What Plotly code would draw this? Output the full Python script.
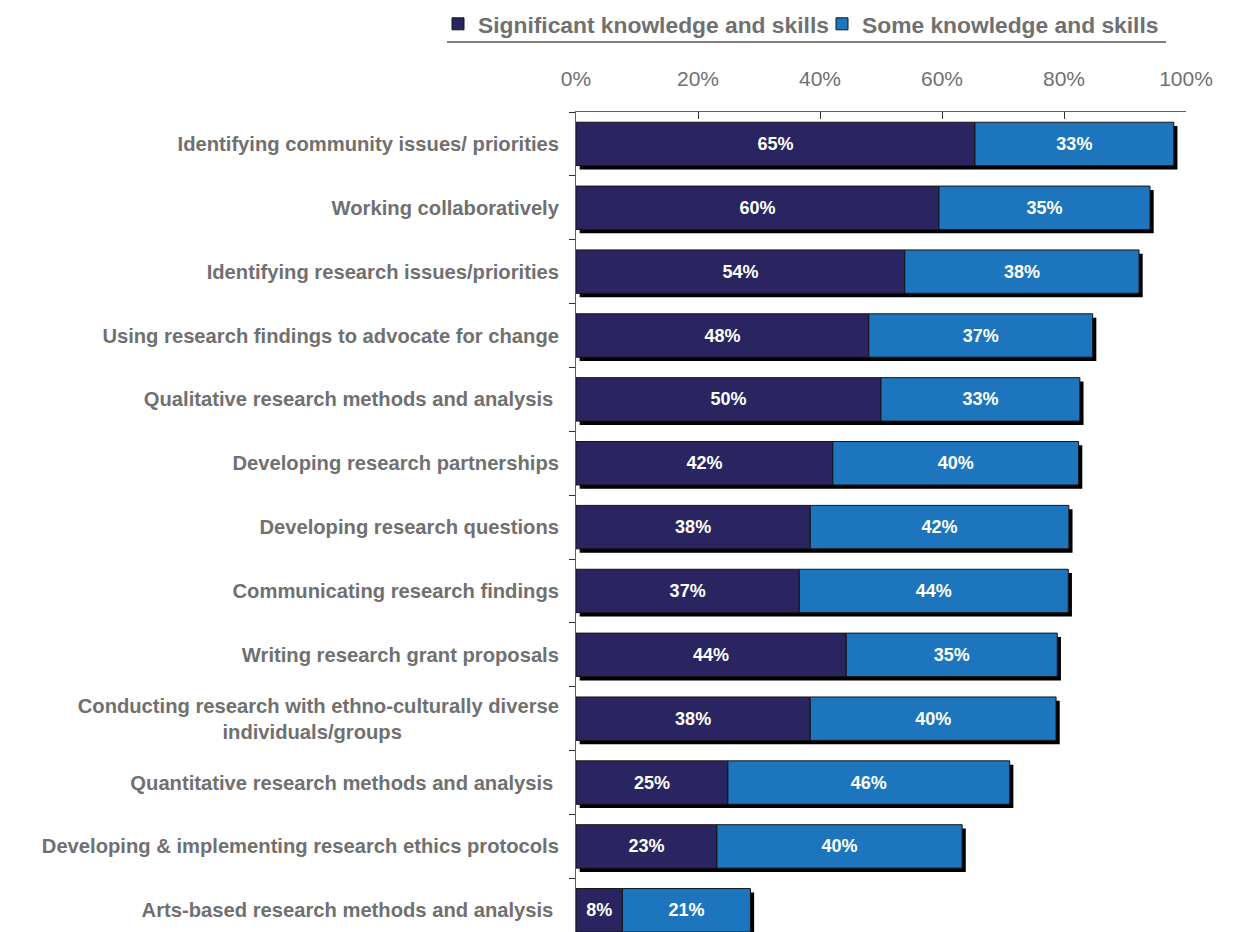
import plotly.graph_objects as go

categories = [
    "Identifying community issues/ priorities",
    "Working collaboratively",
    "Identifying research issues/priorities",
    "Using research findings to advocate for change",
    "Qualitative research methods and analysis ",
    "Developing research partnerships",
    "Developing research questions",
    "Communicating research findings",
    "Writing research grant proposals",
    "Conducting research with ethno-culturally diverse<br>individuals/groups" + "\u00a0" * 28,
    "Quantitative research methods and analysis ",
    "Developing & implementing research ethics protocols",
    "Arts-based research methods and analysis ",
]
significant = [65.4, 59.5, 53.9, 48.0, 50.0, 42.1, 38.4, 36.6, 44.3, 38.4, 24.9, 23.1, 7.6]
some = [32.6, 34.6, 38.4, 36.7, 32.6, 40.3, 42.4, 44.1, 34.6, 40.3, 46.2, 40.2, 21.0]
series_names = ["Significant knowledge and skills", "Some knowledge and skills"]
tick_vals = [0, 20, 40, 60, 80, 100]
tick_text = ["0%", "20%", "40%", "60%", "80%", "100%"]

DARK = "#2A2560"
BLUE = "#1D76BD"
GRAY = "#707070"
BAR_W = 0.68
NARROW = "Liberation Sans Narrow, Arial Narrow, Liberation Sans, sans-serif"
totals = [a + b for a, b in zip(significant, some)]

W, H = 1237, 924          # page body adds an 8px margin
ML, MR, MT = 568, 59, 104
PW, PH = W - ML - MR, H - MT

fig = go.Figure()
# drop shadow behind each stacked bar
fig.add_trace(go.Bar(
    y=categories, x=totals, base=0.6, orientation="h",
    width=BAR_W, offset=-BAR_W / 2 + 0.06,
    marker=dict(color="#000000", line=dict(width=0)),
    showlegend=False, hoverinfo="skip",
))
fig.add_trace(go.Bar(
    y=categories, x=significant, orientation="h", name=series_names[0],
    width=BAR_W, offset=-BAR_W / 2, legend="legend",
    marker=dict(color=DARK, line=dict(color="#151515", width=1)),
    text=[f"{v:.0f}%" for v in significant], textposition="inside", insidetextanchor="middle",
    textfont=dict(family=NARROW, size=18, color="white", weight=700),
    constraintext="none", hoverinfo="x+y",
))
fig.add_trace(go.Bar(
    y=categories, x=some, base=significant, orientation="h", name=series_names[1],
    width=BAR_W, offset=-BAR_W / 2, legend="legend2",
    marker=dict(color=BLUE, line=dict(color="#151515", width=1)),
    text=[f"{v:.0f}%" for v in some], textposition="inside", insidetextanchor="middle",
    textfont=dict(family=NARROW, size=18, color="white", weight=700),
    constraintext="none", hoverinfo="x+y",
))

leg_common = dict(
    orientation="h", xref="container", yref="container", xanchor="left",
    y=1 - 16 / H, yanchor="middle",
    font=dict(family=NARROW, size=22.8, color=GRAY, weight=700),
    bgcolor="rgba(0,0,0,0)", itemwidth=30,
)
line_y = 1 + (MT - 34) / PH

fig.update_layout(
    width=W, height=H,
    barmode="overlay",
    plot_bgcolor="white", paper_bgcolor="white",
    margin=dict(l=ML, r=MR, t=MT, b=0, autoexpand=False),
    showlegend=True,
    legend=dict(x=430 / W, **leg_common),
    legend2=dict(x=814 / W, **leg_common),
    xaxis=dict(
        side="top", range=[0, 100], tickvals=tick_vals, ticktext=tick_text,
        showgrid=False, zeroline=False, showline=True, linecolor="#606060", linewidth=1,
        ticks="inside", ticklen=7, tickcolor="#303030", automargin=False,
        tickfont=dict(family=NARROW, size=21, color=GRAY),
        ticklabelstandoff=17,
    ),
    yaxis=dict(
        autorange=False, range=[12.34, -0.5], categoryorder="array", categoryarray=categories,
        showgrid=False, zeroline=False, showline=True, linecolor="#606060", linewidth=1,
        ticks="outside", ticklen=6, tickcolor="#303030", tickson="boundaries", automargin=False,
        tickfont=dict(family="Liberation Sans, Arial, sans-serif", size=20.2, color=GRAY, weight=700),
        ticklabelstandoff=12,
    ),
    shapes=[dict(type="line", xref="paper", yref="paper",
                 x0=(439 - ML) / PW, x1=(1158 - ML) / PW,
                 y0=line_y, y1=line_y,
                 line=dict(color="#808080", width=2))],
)

fig.write_html("out.html")
